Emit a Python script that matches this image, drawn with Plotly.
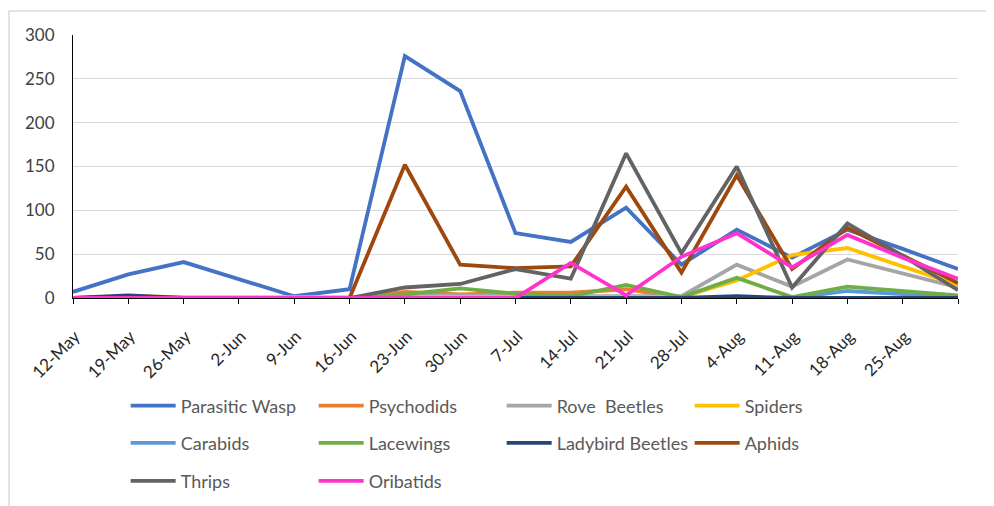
import plotly.graph_objects as go

categories = ["12-May", "19-May", "26-May", "2-Jun", "9-Jun", "16-Jun", "23-Jun",
              "30-Jun", "7-Jul", "14-Jul", "21-Jul", "28-Jul", "4-Aug", "11-Aug",
              "18-Aug", "25-Aug", ""]

parasitic_wasp = [7, 27, 41, 21, 2, 10, 276, 236, 74, 64, 103, 38, 78, 46, 78, 56, 33]
psychodids = [0, 0, 0, 0, 0, 0, 7, 4, 6, 6, 10, 0, 0, 0, 0, 0, 0]
rove_beetles = [0, 1, 0, 0, 0, 0, 2, 3, 2, 2, 3, 2, 38, 13, 44, 28, 12]
spiders = [0, 2, 1, 1, 1, 1, 2, 2, 2, 2, 2, 1, 20, 49, 57, 36, 15]
carabids = [0, 0, 0, 0, 0, 0, 0, 1, 1, 1, 1, 0, 0, 0, 8, 4, 1]
lacewings = [0, 1, 0, 0, 0, 0, 4, 11, 5, 2, 15, 1, 23, 1, 13, 8, 3]
ladybird_beetles = [0, 3, 0, 0, 0, 0, 0, 0, 0, 0, 0, 0, 2, 0, 0, 0, 0]
aphids = [0, 0, 0, 0, 0, 0, 152, 38, 34, 36, 127, 29, 140, 33, 80, 48, 17]
thrips = [0, 0, 0, 0, 0, 0, 12, 16, 33, 22, 165, 51, 150, 12, 85, 48, 9]
oribatids = [0, 0, 0, 0, 0, 0, 0, 0, 0, 40, 3, 47, 74, 35, 72, 46, 22]

series = [
    ("Parasitic Wasp", parasitic_wasp, "#4472C4", "legend"),
    ("Psychodids", psychodids, "#ED7D31", "legend"),
    ("Rove  Beetles", rove_beetles, "#A5A5A5", "legend"),
    ("Spiders", spiders, "#FFC000", "legend"),
    ("Carabids", carabids, "#5B9BD5", "legend2"),
    ("Lacewings", lacewings, "#70AD47", "legend2"),
    ("Ladybird Beetles", ladybird_beetles, "#264478", "legend2"),
    ("Aphids", aphids, "#9E480E", "legend2"),
    ("Thrips", thrips, "#636363", "legend3"),
    ("Oribatids", oribatids, "#FF33CC", "legend3"),
]

x = list(range(len(categories)))

fig = go.Figure()
for name, vals, color, lg in series:
    fig.add_trace(go.Scatter(x=x, y=vals, mode="lines", name=name,
                             line=dict(color=color, width=3.8), legend=lg))

FONT = "Lato, Open Sans, sans-serif"
legend_common = dict(orientation="h", entrywidth=128, entrywidthmode="pixels",
                     font=dict(family=FONT, size=18, color="#595959"),
                     bgcolor="rgba(0,0,0,0)", xanchor="left", yanchor="top",
                     itemwidth=45, tracegroupgap=0)

fig.update_layout(
    width=986, height=498,
    margin=dict(l=65, r=36, t=27, b=208, autoexpand=False),
    paper_bgcolor="white", plot_bgcolor="white",
    font=dict(family=FONT, size=17, color="#404040"),
    showlegend=True,
    legend=dict(x=0.0595, y=-0.34, **legend_common),
    legend2=dict(x=0.0595, y=-0.482, **legend_common),
    legend3=dict(x=0.0595, y=-0.626, **legend_common),
    xaxis=dict(range=[0, 16], tickmode="array", tickvals=x, ticktext=categories,
               tickangle=-45, showgrid=False, showline=True, linecolor="black",
               linewidth=1, ticks="outside", ticklen=5, tickcolor="black",
               zeroline=False, automargin=False, ticklabelstandoff=16,
               ticklabelshift=2,
               tickfont=dict(size=17, color="#262626")),
    yaxis=dict(range=[0, 300], tickvals=[0, 50, 100, 150, 200, 250, 300],
               showgrid=True, gridcolor="#D9D9D9", gridwidth=1, showline=True,
               linecolor="black", linewidth=1, zeroline=False, ticks="",
               automargin=False, ticklabelstandoff=14,
               tickfont=dict(size=17, color="#404040")),
    shapes=[dict(type="rect", xref="paper", yref="paper", x0=-0.0723, x1=1.2,
                 y0=-1.2, y1=1.091, line=dict(color="#D9D9D9", width=1.5),
                 fillcolor="rgba(0,0,0,0)", layer="below")],
)

fig.write_html("out.html")
